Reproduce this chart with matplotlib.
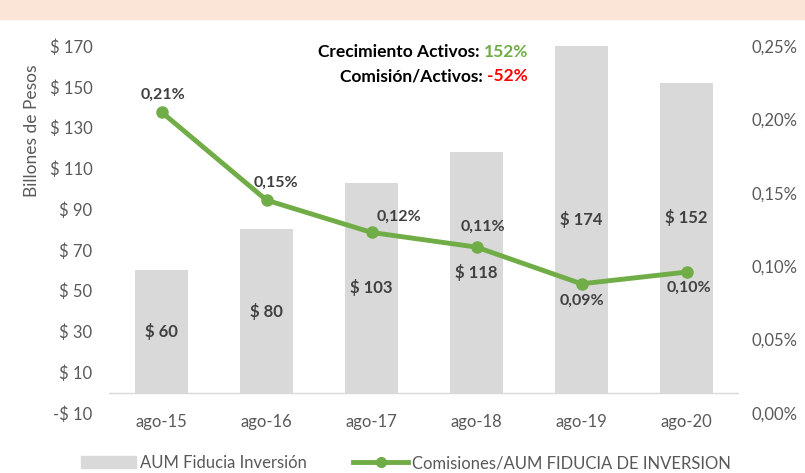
import matplotlib.pyplot as plt
from matplotlib.patches import Rectangle
from matplotlib.lines import Line2D
from matplotlib.patches import Patch

plt.rcParams['font.family'] = ['Lato', 'DejaVu Sans']

# data
fechas = ['ago-15', 'ago-16', 'ago-17', 'ago-18', 'ago-19', 'ago-20']
aum = [60, 80, 103, 118, 174, 152]
comision = [0.205, 0.145, 0.123, 0.113, 0.088, 0.096]
comision_txt = ['0,21%', '0,15%', '0,12%', '0,11%', '0,09%', '0,10%']
left_ticks = [-10, 10, 30, 50, 70, 90, 110, 130, 150, 170]
right_ticks = [0.0, 0.05, 0.10, 0.15, 0.20, 0.25]

gris = '#D9D9D9'
verde = '#70AD47'
texto = '#595959'

fig = plt.figure(figsize=(8.05, 4.73), dpi=100)
# franja de titulo
fig.patches.append(Rectangle((0, 1 - 19 / 473), 1, 19 / 473, transform=fig.transFigure,
                             color='#FBE5D6', zorder=0))

ax = fig.add_axes([109 / 805, 1 - 413 / 473, 630 / 805, 367 / 473])
x = range(len(fechas))
ax.bar(x, aum, width=0.51, color=gris, zorder=1)
ax.set_ylim(-10, 170)
ax.set_xlim(-0.5, 5.5)
ax.axhline(0, color=gris, lw=1, zorder=2)
for s in ax.spines.values():
    s.set_visible(False)
ax.set_yticks(left_ticks)
ax.set_yticklabels([('-$ %d' % -v) if v < 0 else '$ %d' % v for v in left_ticks])
ax.set_xticks(list(x))
ax.set_xticklabels(fechas)
ax.tick_params(axis='both', length=0, labelsize=12, labelcolor=texto)
ax.tick_params(axis='y', pad=12)
ax.tick_params(axis='x', pad=1)
ax.set_ylabel('Billones de Pesos', fontsize=12.5, color=texto)
ax.yaxis.set_label_coords(-0.11, 0.77)

# etiquetas de barras (Excel las centra en la parte visible)
label_pos = [30, 40, 51.5, 59, 85, 86]
for i, v in enumerate(aum):
    ax.text(i, label_pos[i], '$ %d' % v, ha='center', va='center', fontsize=12,
            fontweight='bold', color='#404040', zorder=5)

ax2 = ax.twinx()
ax2.set_ylim(0, 0.25)
for s in ax2.spines.values():
    s.set_visible(False)
ax2.plot(list(x), comision, color=verde, lw=3.5, marker='o', markersize=8, zorder=4)
ax2.set_yticks(right_ticks)
ax2.set_yticklabels([('%.2f%%' % v).replace('.', ',') for v in right_ticks])
ax2.tick_params(axis='y', length=0, labelsize=12, labelcolor=texto, pad=9)

offsets = [(1, 17), (9, 17), (27, 16), (6, 20), (0, -17), (2, -16)]
for i, (v, t) in enumerate(zip(comision, comision_txt)):
    ax2.annotate(t, (i, v), xytext=offsets[i], textcoords='offset pixels',
                 ha='center', va='center', fontsize=11.5, fontweight='bold',
                 color='#404040', zorder=6)

# textos de crecimiento
p1 = fig.text(528 / 805, 1 - 52 / 473, '152%', ha='right', va='center',
              fontsize=12.5, fontweight='bold', color=verde)
ax.annotate('Crecimiento Activos: ', xy=(0, 0.5), xycoords=p1, ha='right', va='center',
            fontsize=12.5, fontweight='bold', color='black', annotation_clip=False)
p2 = fig.text(528 / 805, 1 - 76 / 473, '-52%', ha='right', va='center',
              fontsize=12.5, fontweight='bold', color='red')
ax.annotate('Comisión/Activos: ', xy=(0, 0.5), xycoords=p2, ha='right', va='center',
            fontsize=12.5, fontweight='bold', color='black', annotation_clip=False)

handles = [Patch(color=gris, label='AUM Fiducia Inversión'),
           Line2D([0], [0], color=verde, lw=3.5, marker='o', markersize=7,
                  label='Comisiones/AUM FIDUCIA DE INVERSION')]
leg = fig.legend(handles=handles, loc='center', bbox_to_anchor=(406 / 805, 1 - 463 / 473),
                 ncol=2, frameon=False, fontsize=12, columnspacing=2.8,
                 handlelength=3.3, handletextpad=0.2)
for t in leg.get_texts():
    t.set_color(texto)

fig.savefig('out.png', dpi=100)
